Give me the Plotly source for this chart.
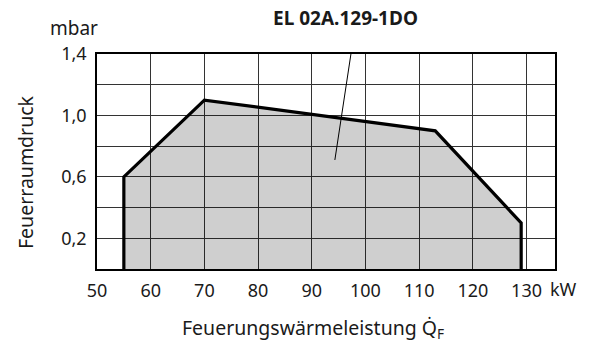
import plotly.graph_objects as go

# Data
load_kw = [55, 55, 70, 113, 129, 129]
pressure_mbar = [0.0, 0.6, 1.1, 0.9, 0.3, 0.0]
x_ticks = [50, 60, 70, 80, 90, 100, 110, 120, 130]
x_tick_labels = ["50", "60", "70", "80", "90", "100", "110", "120", "130"]
y_ticks = [0.2, 0.6, 1.0, 1.4]
y_tick_labels = ["0,2", "0,6", "1,0", "1,4"]
model_name = "EL 02A.129-1DO"
leader = {"x": [97.9, 94.3], "y": [1.54, 0.71]}

FONT = "Noto Sans"
fig = go.Figure()
fig.add_trace(go.Scatter(x=load_kw, y=pressure_mbar, mode="lines", fill="toself",
                         fillcolor="rgba(0,0,0,0.19)", line=dict(width=0),
                         hoverinfo="skip", showlegend=False))
fig.add_trace(go.Scatter(x=load_kw, y=pressure_mbar, mode="lines",
                         line=dict(color="black", width=3.2),
                         showlegend=False))
fig.add_trace(go.Scatter(x=leader["x"], y=leader["y"], mode="lines",
                         line=dict(color="black", width=1), cliponaxis=False,
                         showlegend=False))

W, H = 594, 347
L, R, T, B = 97, 39, 54, 78
pw, ph = W - L - R, H - T - B

def ann(text, px, py, size, angle=0):
    return dict(text=text, x=(px - L) / pw, y=(H - B - py) / ph, xref="paper", yref="paper",
                xanchor="center", yanchor="middle", showarrow=False, textangle=angle,
                font=dict(family=FONT, size=size, color="#1a1a1a"))

fig.update_layout(
    width=W, height=H,
    margin=dict(l=L, r=R, t=T, b=B, autoexpand=False),
    paper_bgcolor="white", plot_bgcolor="white",
    font=dict(family=FONT, size=18, color="#1a1a1a"),
    xaxis=dict(range=[50, 135.3], tickvals=x_ticks, ticktext=x_tick_labels,
               showgrid=True, gridcolor="#333", gridwidth=1,
               showline=True, linecolor="black", linewidth=1.6, mirror=True,
               ticks="", zeroline=False, tickfont=dict(size=18), ticklabelstandoff=5),
    yaxis=dict(range=[0, 1.4], tickvals=y_ticks, ticktext=y_tick_labels,
               showgrid=True, gridcolor="#333", gridwidth=1,
               minor=dict(dtick=0.2, tick0=0, showgrid=True, gridcolor="#333", gridwidth=1, ticks=""),
               showline=True, linecolor="black", linewidth=1.6, mirror=True,
               ticks="", zeroline=False, tickfont=dict(size=18), ticklabelstandoff=5),
    annotations=[
        ann("<b>" + model_name + "</b>", 345, 18, 19),
        ann("mbar", 74, 28, 19),
        ann("kW", 563, 289, 18),
        ann("Feuerraumdruck", 25, 172, 19.5, -90),
        ann("Feuerungswärmeleistung Q\u0307<sub>F</sub>", 313, 328, 19.5),
    ],
)
fig.write_html("out.html", config={"displayModeBar": False},
               post_script="document.body.style.margin='0';")
